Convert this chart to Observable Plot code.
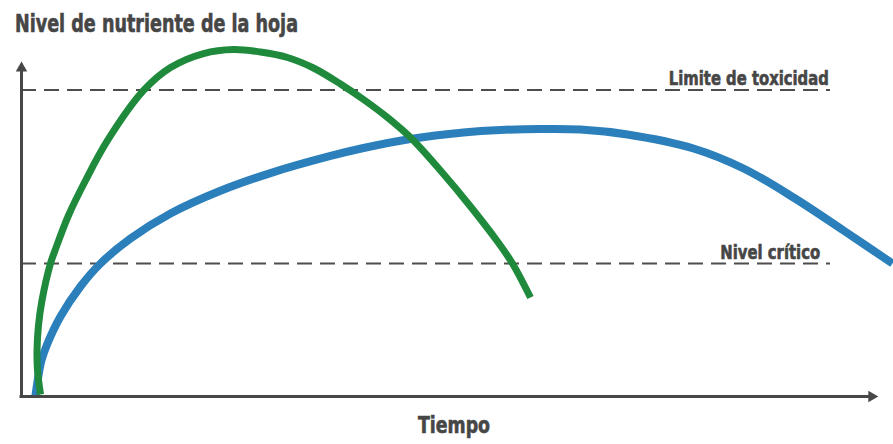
<!DOCTYPE html>
<html>
<head>
<meta charset="utf-8">
<script src="https://cdn.jsdelivr.net/npm/d3@7"></script>
<script src="https://cdn.jsdelivr.net/npm/@observablehq/plot@0.6"></script>
<style>
  html, body { margin: 0; padding: 0; background: #fff; }
  #wrap { position: relative; width: 893px; height: 444px; overflow: hidden; }
  .lbl { position: absolute; white-space: nowrap; font-family: "DejaVu Sans Condensed", "DejaVu Sans", sans-serif;
         font-stretch: condensed; font-weight: bold; color: #464646; line-height: 1; transform-origin: 0 0;
         -webkit-text-stroke: 0.6px #464646; }
  #top { position: relative; height: 44px; }
  #bottom { position: relative; height: 40px; }
  #chart svg { display: block; }
</style>
</head>
<body>
<div id="wrap">
  <div id="top"></div>
  <div id="chart"></div>
  <div id="bottom"></div>
</div>
<script>
// ---- data ----
const titleText = "Nivel de nutriente de la hoja";
const xLabelText = "Tiempo";
const thresholdNames = ["Limite de toxicidad", "Nivel crítico"];
const thresholdLevels = [91.8, 39.8];

const greenTime  = [2.22, 1.87, 1.81, 1.98, 2.39, 3.38, 3.91, 5.48, 7.47, 10.04, 14.24, 17.39, 21.24, 24.74, 27.89, 31.04, 34.07, 37.22, 39.91, 42.71, 45.39, 48.89, 52.39, 55.54, 57.29, 59.39];
const greenLevel = [0.60, 7.78, 13.77, 21.26, 28.74, 39.82, 43.71, 54.19, 64.67, 76.65, 91.62, 98.50, 102.69, 103.89, 103.14, 101.50, 98.35, 93.56, 88.92, 83.53, 77.54, 67.66, 56.89, 46.41, 39.82, 29.64];

const blueTime  = [1.63, 1.98, 2.33, 3.03, 4.55, 6.88, 9.22, 12.72, 17.39, 23.22, 29.05, 36.06, 39.91, 45.39, 51.58, 55.89, 60.56, 65.23, 70.71, 78.41, 84.25, 90.08, 95.92, 101.63];
const blueLevel = [0.30, 6.29, 10.78, 15.87, 23.95, 32.93, 39.82, 47.31, 54.79, 61.59, 66.89, 72.01, 74.40, 77.10, 79.04, 79.79, 80.09, 79.94, 78.44, 74.25, 68.26, 59.58, 49.70, 39.82];

// ---- build tables ----
const green = greenTime.map((t, i) => ({t, v: greenLevel[i]}));
const blue = blueTime.map((t, i) => ({t, v: blueLevel[i]}));
const thresholds = thresholdNames.map((name, i) => ({name, v: thresholdLevels[i]}));

const axisColor = "#474747";
const font = "DejaVu Sans Condensed, DejaVu Sans, sans-serif";

const plot = Plot.plot({
  width: 893,
  height: 360,
  marginLeft: 21,
  marginRight: 15,
  marginTop: 18,
  marginBottom: 8,
  x: {domain: [0, 100], axis: null},
  y: {domain: [0, 100], axis: null},
  marks: [
    Plot.ruleY(thresholds, {y: "v", x1: 0, x2: 94.4, stroke: "#4d4d4d", strokeWidth: 2, strokeDasharray: "15,8"}),
    Plot.text(thresholds, {y: "v", x: d => d.name === thresholdNames[0] ? 94.2 : 93.2, text: "name",
      textAnchor: "end", lineAnchor: "bottom", dy: -5, fontFamily: font, fontWeight: "bold", fontSize: 20,
      fill: "#464646", stroke: "#464646", strokeWidth: 0.6}),
    Plot.line(blue, {x: "t", y: "v", stroke: "#2b7fba", strokeWidth: 8, curve: "catmull-rom", strokeLinecap: "butt"}),
    Plot.line(green, {x: "t", y: "v", stroke: "#1f8a3b", strokeWidth: 7, curve: "catmull-rom", strokeLinecap: "butt"}),
    Plot.ruleY([0], {x1: 0, x2: 98.8, stroke: axisColor, strokeWidth: 3, strokeLinecap: "square"}),
    Plot.ruleX([0], {y1: 0, y2: 97.5, stroke: axisColor, strokeWidth: 3, strokeLinecap: "square"}),
    Plot.dot([{x: 99.2, y: 0}], {x: "x", y: "y", symbol: "triangle2", r: 5.5, fill: axisColor, stroke: "none", rotate: 90}),
    Plot.dot([{x: 0, y: 98.3}], {x: "x", y: "y", symbol: "triangle2", r: 5.5, fill: axisColor, stroke: "none", rotate: 0})
  ]
});
document.getElementById("chart").appendChild(plot);

// fit label widths to the reference's condensed lettering
const targetWidths = {"Limite de toxicidad": 160, "Nivel crítico": 100};
d3.select(plot).selectAll("text").each(function() {
  const t = this.textContent;
  if (targetWidths[t]) {
    this.setAttribute("textLength", targetWidths[t]);
    this.setAttribute("lengthAdjust", "spacingAndGlyphs");
  }
});

function addLabel(parent, text, left, top, size, width) {
  const s = document.createElement("span");
  s.className = "lbl";
  s.textContent = text;
  s.style.fontSize = size + "px";
  s.style.left = left + "px";
  s.style.top = top + "px";
  parent.appendChild(s);
  const w = s.getBoundingClientRect().width;
  s.style.transform = `scaleX(${width / w})`;
}
addLabel(document.getElementById("top"), titleText, 15, 12, 24.5, 283);
addLabel(document.getElementById("bottom"), xLabelText, 418, 10, 23, 72);
</script>
</body>
</html>
